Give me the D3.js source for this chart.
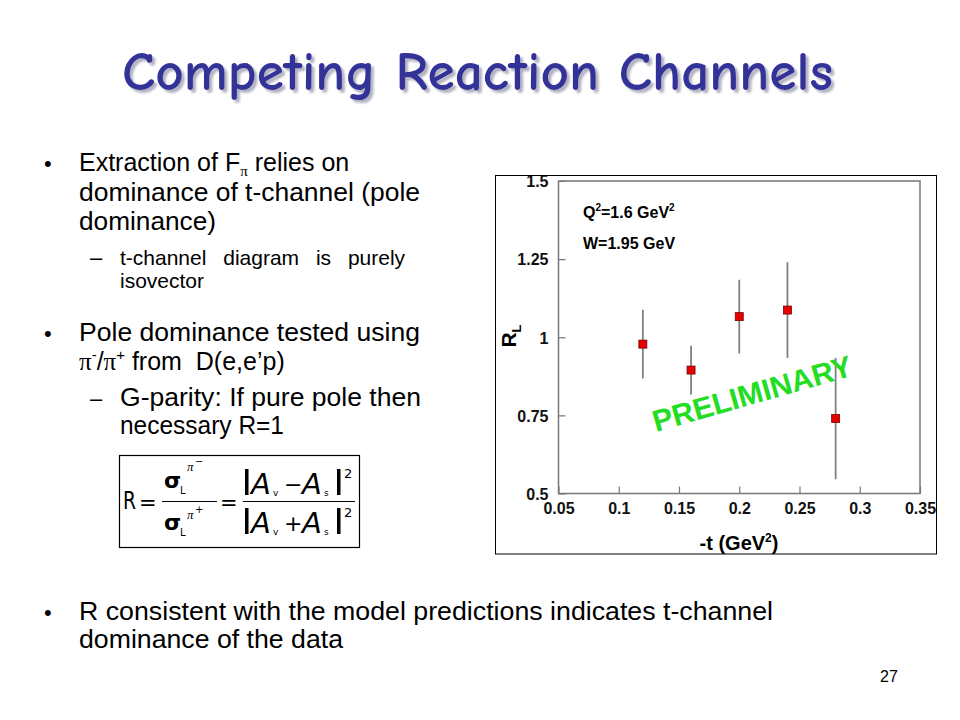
<!DOCTYPE html>
<html>
<head>
<meta charset="utf-8">
<script src="https://cdn.jsdelivr.net/npm/d3@7"></script>
<style>
  body { margin: 0; background: #fff; }
  svg text { font-family: "Liberation Sans", Arial, sans-serif; }
</style>
</head>
<body>
<div id="slide"></div>
<script>
'use strict';

// data
var tValues  = [0.12, 0.16, 0.20, 0.24, 0.28];
var rlValues = [0.978, 0.895, 1.066, 1.087, 0.740];
var rlErrors = [0.110, 0.078, 0.118, 0.153, 0.194];

var xTicks = [0.05, 0.1, 0.15, 0.2, 0.25, 0.3, 0.35];
var yTicks = [0.5, 0.75, 1, 1.25, 1.5];

var points = tValues.map(function(t, i){
  return { t: t, r: rlValues[i], err: rlErrors[i] };
});

var svg = d3.select('#slide')
            .append('svg')
            .attr('width', 960)
            .attr('height', 720);

// soft grey shadow for the title
var shadow = svg.append('defs').append('filter')
                .attr('id', 'titleShadow')
                .attr('x', '-5%').attr('y', '-20%').attr('width', '110%').attr('height', '150%');
shadow.append('feDropShadow')
      .attr('dx', 3).attr('dy', 3).attr('stdDeviation', 1)
      .attr('flood-color', '#9090a8').attr('flood-opacity', 0.7);

svg.append('text')
   .attr('x', 122)
   .attr('y', 90)
   .attr('textLength', 711)
   .attr('lengthAdjust', 'spacingAndGlyphs')
   .attr('filter', 'url(#titleShadow)')
   .style('font-family', '"Comic Sans MS", "Comic Neue", "DejaVu Sans", sans-serif')
   .style('font-size', '55px')
   .style('font-weight', '600')
   .attr('fill', '#333399')
   .text('Competing Reaction Channels');

// bullet text on the left
var body = svg.append('g');

var line = function(x, y, size, str, len){
  var t = body.append('text')
              .attr('x', x)
              .attr('y', y)
              .style('font-size', size + 'px')
              .text(str);
  if(len){
    t.attr('textLength', len).attr('lengthAdjust', 'spacingAndGlyphs');
  }
  return t;
};

var bullet = function(y){ line(44, y, 22, '\u2022'); };
var dash = function(y){ line(90, y, 22, '\u2013'); };

bullet(171);
var l1 = line(79, 171, 25, 'Extraction of F');
l1.append('tspan').attr('dy', 5).style('font-family', '"Liberation Serif", serif')
  .style('font-size', '15px').text('\u03c0');
l1.append('tspan').attr('dy', -5).text(' relies on');
line(79, 201, 25, 'dominance of t-channel (pole', 341);
line(79, 230, 25, 'dominance)', 137);

dash(265);
line(120, 265, 21, 't-channel diagram is purely')
  .style('word-spacing', '11px');
line(120, 288, 21, 'isovector');

bullet(341);
line(79, 341, 25, 'Pole dominance tested using', 341);
var l2 = body.append('text').attr('x', 79).attr('y', 370)
             .style('font-size', '25px').style('white-space', 'pre');
l2.append('tspan').style('font-family', '"Liberation Serif", serif').text('\u03c0');
l2.append('tspan').attr('dy', -10).style('font-size', '15px').text('-');
l2.append('tspan').attr('dy', 10).text('/');
l2.append('tspan').style('font-family', '"Liberation Serif", serif').text('\u03c0');
l2.append('tspan').attr('dy', -10).style('font-size', '15px').text('+');
l2.append('tspan').attr('dy', 10).text(' from  D(e,e\u2019p)');

dash(406);
line(120, 406, 25, 'G-parity: If pure pole then', 301);
line(120, 434, 25, 'necessary R=1', 164);

bullet(620);
line(79, 620, 25, 'R consistent with the model predictions indicates t-channel', 694);
line(79, 648, 25, 'dominance of the data', 264);

line(880, 682, 16, '27');

// formula box
var f = svg.append('g');
f.append('rect')
 .attr('x', 119.5).attr('y', 455.5).attr('width', 240).attr('height', 92)
 .attr('fill', 'none').attr('stroke', '#000').attr('stroke-width', 1.2);

var ft = function(x, y, size, str, style){
  return f.append('text')
          .attr('x', x).attr('y', y)
          .style('font-family', '"DejaVu Sans", sans-serif')
          .style('font-size', size + 'px')
          .style('font-style', style || 'normal')
          .text(str);
};
var fracLine = function(x1, x2){
  f.append('line').attr('x1', x1).attr('x2', x2).attr('y1', 501.5).attr('y2', 501.5)
   .attr('stroke', '#000').attr('stroke-width', 1.2);
};

ft(123, 509, 25, 'R').attr('textLength', 13).attr('lengthAdjust', 'spacingAndGlyphs');
ft(139, 510, 21, '=');
fracLine(162, 217);
ft(164, 488, 22, '\u03c3').style('font-weight', 'bold');
ft(180, 494, 10, 'L');
ft(187, 471, 13, '\u03c0', 'italic').style('font-family', '"Liberation Serif", serif');
ft(195, 465, 10, '\u2212');
ft(164, 530, 22, '\u03c3').style('font-weight', 'bold');
ft(180, 536, 10, 'L');
ft(187, 519, 13, '\u03c0', 'italic').style('font-family', '"Liberation Serif", serif');
ft(195, 513, 10, '+');
ft(220, 510, 21, '=');
fracLine(243, 355);

[[494, '\u2212'], [533, '+']].forEach(function(r){
  var y = r[0];
  f.append('rect').attr('x', 245).attr('y', y - 25).attr('width', 3.5).attr('height', 26).attr('fill', '#000');
  ft(251, y, 29, 'A', 'italic');
  ft(273, y + 2, 9, 'v');
  ft(284, y - 2, 22, r[1]);
  ft(302, y, 29, 'A', 'italic');
  ft(324, y + 2, 9, 's');
  f.append('rect').attr('x', 337).attr('y', y - 25).attr('width', 3.5).attr('height', 26).attr('fill', '#000');
  ft(344, y - 16, 13, '2');
});

// the plot panel
var outer = { x: 495.5, y: 175.5, w: 441, h: 378.5 };
var plot  = { left: 558.5, right: 920, top: 181, bottom: 493.5 };

svg.append('clipPath').attr('id', 'panelClip')
   .append('rect').attr('x', outer.x).attr('y', outer.y).attr('width', outer.w).attr('height', outer.h);

var panel = svg.append('g').attr('clip-path', 'url(#panelClip)');

var x = d3.scaleLinear().domain([0.05, 0.35]).range([plot.left, plot.right]);
var y = d3.scaleLinear().domain([0.5, 1.5]).range([plot.bottom, plot.top]);

var fmt = function(d){ return String(+d.toFixed(2)); };

var xAxis = panel.append('g')
     .attr('transform', 'translate(0,' + plot.bottom + ')')
     .call(d3.axisBottom(x).tickValues(xTicks).tickSize(-7).tickPadding(9).tickFormat(fmt));
var yAxis = panel.append('g')
     .attr('transform', 'translate(' + plot.left + ',0)')
     .call(d3.axisLeft(y).tickValues(yTicks).tickSize(-7).tickPadding(10).tickFormat(fmt));

[xAxis, yAxis].forEach(function(a){
  a.select('.domain').remove();
  a.selectAll('line').attr('stroke', '#777').attr('stroke-width', 1.2);
  a.selectAll('text')
   .attr('fill', '#111')
   .style('font-family', '"Liberation Sans", Arial, sans-serif')
   .style('font-weight', 'bold')
   .style('font-size', '16px');
});
yAxis.selectAll('text').attr('dy', '0.36em');

panel.append('rect')
     .attr('x', plot.left).attr('y', plot.top)
     .attr('width', plot.right - plot.left).attr('height', plot.bottom - plot.top)
     .attr('fill', 'none').attr('stroke', '#777').attr('stroke-width', 1.5);

// axis titles
var xTitle = panel.append('text')
     .attr('x', 739).attr('y', 550)
     .attr('text-anchor', 'middle')
     .style('font-weight', 'bold').style('font-size', '20px')
     .text('-t (GeV');
xTitle.append('tspan').attr('dy', -8).style('font-size', '12px').text('2');
xTitle.append('tspan').attr('dy', 8).text(')');

var yTitle = panel.append('text')
     .attr('transform', 'translate(516,336) rotate(-90)')
     .attr('text-anchor', 'middle')
     .style('font-weight', 'bold').style('font-size', '21px')
     .text('R');
yTitle.append('tspan').attr('dy', 5).style('font-size', '13px').text('L');

// kinematics labels
var q = panel.append('text').attr('x', 583).attr('y', 218)
             .style('font-weight', 'bold').style('font-size', '16px').text('Q');
q.append('tspan').attr('dy', -7).style('font-size', '10px').text('2');
q.append('tspan').attr('dy', 7).text('=1.6 GeV');
q.append('tspan').attr('dy', -7).style('font-size', '10px').text('2');

panel.append('text').attr('x', 583).attr('y', 249)
     .style('font-weight', 'bold').style('font-size', '16px').text('W=1.95 GeV');

// error bars and markers
panel.selectAll('line.err').data(points)
     .enter().append('line')
     .attr('class', 'err')
     .attr('x1', function(d){ return x(d.t); })
     .attr('x2', function(d){ return x(d.t); })
     .attr('y1', function(d){ return y(d.r + d.err); })
     .attr('y2', function(d){ return y(d.r - d.err); })
     .attr('stroke', '#808080')
     .attr('stroke-width', 1.8);

panel.selectAll('rect.pt').data(points)
     .enter().append('rect')
     .attr('class', 'pt')
     .attr('x', function(d){ return x(d.t) - 4; })
     .attr('y', function(d){ return y(d.r) - 4; })
     .attr('width', 8).attr('height', 8)
     .attr('fill', '#e60000')
     .attr('stroke', '#700').attr('stroke-width', 0.8);

// watermark
panel.append('text')
     .attr('transform', 'translate(656,432) rotate(-16)')
     .attr('textLength', 206)
     .attr('lengthAdjust', 'spacingAndGlyphs')
     .style('font-weight', 'bold').style('font-size', '30px')
     .attr('fill', '#22dd22')
     .text('PRELIMINARY');

svg.append('rect')
   .attr('x', outer.x).attr('y', outer.y).attr('width', outer.w).attr('height', outer.h)
   .attr('fill', 'none').attr('stroke', '#000').attr('stroke-width', 1);
</script>
</body>
</html>
